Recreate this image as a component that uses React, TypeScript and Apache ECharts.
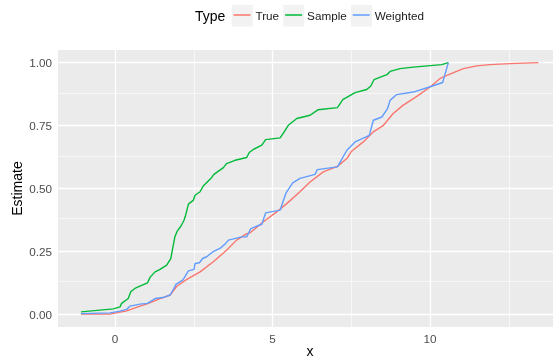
import React, { useEffect, useRef } from "react";
import * as echarts from "echarts";

const seriesNames = ["True", "Sample", "Weighted"];
const seriesColors = ["#F8766D", "#00BA38", "#619CFF"];

const trueX = [-1.08, -0.16, 0.37, 0.79, 1.0, 1.43, 1.75, 1.96, 2.28, 2.7, 3.12, 3.54, 3.86, 4.18, 4.29, 4.66, 5.13, 5.45, 5.87, 6.19, 6.61, 7.06, 7.36, 7.51, 7.88, 8.2, 8.52, 8.83, 9.15, 9.58, 10.0, 10.32, 10.63, 11.06, 11.48, 11.9, 12.54, 13.44];
const trueY = [0.001, 0.001, 0.014, 0.033, 0.041, 0.063, 0.077, 0.112, 0.139, 0.169, 0.209, 0.255, 0.295, 0.321, 0.324, 0.363, 0.407, 0.44, 0.487, 0.526, 0.566, 0.588, 0.619, 0.648, 0.685, 0.725, 0.751, 0.798, 0.831, 0.866, 0.903, 0.937, 0.954, 0.976, 0.987, 0.992, 0.996, 1.0];

const sampleX = [-1.08, -0.05, 0.16, 0.21, 0.42, 0.5, 0.63, 0.79, 1.03, 1.11, 1.27, 1.43, 1.64, 1.77, 1.85, 1.9, 1.98, 2.09, 2.19, 2.25, 2.33, 2.49, 2.54, 2.7, 2.8, 3.07, 3.14, 3.44, 3.54, 3.81, 4.18, 4.26, 4.39, 4.66, 4.78, 5.24, 5.37, 5.5, 5.77, 6.19, 6.38, 6.45, 7.06, 7.23, 7.62, 7.99, 8.12, 8.22, 8.63, 8.73, 9.05, 9.47, 10.37, 10.58];
const sampleY = [0.01, 0.022, 0.03, 0.044, 0.063, 0.09, 0.103, 0.112, 0.125, 0.147, 0.169, 0.179, 0.196, 0.222, 0.275, 0.308, 0.332, 0.35, 0.374, 0.398, 0.438, 0.454, 0.473, 0.487, 0.51, 0.544, 0.556, 0.583, 0.599, 0.612, 0.623, 0.643, 0.655, 0.672, 0.694, 0.701, 0.725, 0.751, 0.778, 0.791, 0.807, 0.813, 0.821, 0.853, 0.881, 0.893, 0.907, 0.932, 0.952, 0.965, 0.976, 0.982, 0.992, 1.0];

const weightedX = [-1.08, -0.16, 0.16, 0.37, 0.48, 0.79, 1.03, 1.27, 1.53, 1.75, 1.85, 1.94, 2.15, 2.33, 2.51, 2.54, 2.68, 2.78, 2.91, 3.1, 3.33, 3.49, 3.6, 4.02, 4.18, 4.31, 4.39, 4.66, 4.78, 5.24, 5.43, 5.64, 5.87, 6.35, 6.42, 7.06, 7.36, 7.62, 8.07, 8.2, 8.47, 8.65, 8.73, 8.94, 9.47, 10.05, 10.4, 10.58];
const weightedY = [0.003, 0.006, 0.013, 0.02, 0.033, 0.041, 0.044, 0.063, 0.067, 0.077, 0.099, 0.12, 0.136, 0.173, 0.179, 0.202, 0.205, 0.222, 0.229, 0.248, 0.262, 0.279, 0.295, 0.308, 0.308, 0.341, 0.345, 0.358, 0.403, 0.414, 0.483, 0.522, 0.54, 0.556, 0.575, 0.586, 0.652, 0.685, 0.711, 0.771, 0.784, 0.817, 0.85, 0.873, 0.883, 0.906, 0.921, 1.0];

const xTicks = [0, 5, 10];
const xMinor = [2.5, 7.5, 12.5];
const yTicks = [0, 0.25, 0.5, 0.75, 1];
const yMinor = [0.125, 0.375, 0.625, 0.875];

const FONT = "'Liberation Sans', Arial, Helvetica, sans-serif";

export default function App() {
  const ref = useRef<HTMLDivElement>(null);
  useEffect(() => {
    if (!ref.current) return;
    const chart = echarts.init(ref.current, null, { renderer: "svg" });
    const zip = (xs: number[], ys: number[]) => xs.map((x, i) => [x, ys[i]]);
    const gl = (axis: string, v: number, major: boolean) => ({
      [axis]: v,
      lineStyle: { color: "#FFFFFF", width: major ? 1.3 : 0.6, type: "solid" },
    });
    const gridMarks = [
      ...xMinor.map((v) => gl("xAxis", v, false)),
      ...yMinor.map((v) => gl("yAxis", v, false)),
      ...xTicks.map((v) => gl("xAxis", v, true)),
      ...yTicks.map((v) => gl("yAxis", v, true)),
    ];
    const datasets = [zip(trueX, trueY), zip(sampleX, sampleY), zip(weightedX, weightedY)];
    chart.setOption({
      animation: false,
      textStyle: { fontFamily: FONT },
      grid: {
        left: 58,
        right: -10,
        top: 50,
        bottom: 31,
        show: true,
        backgroundColor: "#EBEBEB",
        borderWidth: 0,
        containLabel: false,
        outerBoundsMode: "none",
      },
      legend: {
        data: seriesNames,
        left: 233.5,
        top: 9,
        padding: 0,
        itemWidth: 17,
        itemHeight: 1.5,
        itemGap: 6,
        icon: "rect",
        textStyle: { fontSize: 11.7, color: "#1A1A1A", fontFamily: FONT },
        selectedMode: false,
      },
      graphic: [
        { type: "rect", shape: { x: 231.7, y: 5, width: 21, height: 21.5 }, style: { fill: "#F2F2F2" }, z: 0 },
        { type: "rect", shape: { x: 283.3, y: 5, width: 21, height: 21.5 }, style: { fill: "#F2F2F2" }, z: 0 },
        { type: "rect", shape: { x: 351, y: 5, width: 21, height: 21.5 }, style: { fill: "#F2F2F2" }, z: 0 },
        {
          type: "text",
          x: 195,
          y: 16,
          style: { text: "Type", fontSize: 14, fill: "#000", fontFamily: FONT, verticalAlign: "middle", align: "left" },
        },
        {
          type: "text",
          x: 310,
          y: 350.5,
          style: { text: "x", fontSize: 14, lineHeight: 14, fill: "#000", fontFamily: FONT, verticalAlign: "middle", align: "center" },
        },
        {
          type: "text",
          x: 17,
          y: 188.5,
          rotation: Math.PI / 2,
          style: { text: "Estimate", fontSize: 14, fill: "#000", fontFamily: FONT, verticalAlign: "middle", align: "center" },
        },
      ],
      xAxis: {
        type: "value",
        min: -1.81,
        max: 14.22,
        axisLine: { show: false },
        axisTick: { show: true, customValues: xTicks, length: 3.7, lineStyle: { color: "#333333", width: 1 } },
        axisLabel: { customValues: xTicks, color: "#4D4D4D", fontSize: 11.7, margin: 5, fontFamily: FONT },
        splitLine: { show: false },
      },
      yAxis: {
        type: "value",
        min: -0.05,
        max: 1.05,
        axisLine: { show: false },
        axisTick: { show: true, customValues: yTicks, length: 3.7, lineStyle: { color: "#333333", width: 1 } },
        axisLabel: {
          customValues: yTicks,
          color: "#4D4D4D",
          fontSize: 11.7,
          margin: 6,
          fontFamily: FONT,
          formatter: (v: number) => v.toFixed(2),
        },
        splitLine: { show: false },
      },
      series: [
        {
          type: "line",
          name: "__grid",
          data: [],
          silent: true,
          markLine: {
            silent: true,
            symbol: "none",
            z: 1,
            label: { show: false },
            emphasis: { disabled: true },
            data: gridMarks,
          },
        },
        ...seriesNames.map((name, i) => ({
          type: "line",
          name,
          data: datasets[i],
          showSymbol: false,
          symbol: "none",
          color: seriesColors[i],
          lineStyle: { color: seriesColors[i], width: 1.4 },
          z: 2 + i,
        })),
      ],
    });
    return () => chart.dispose();
  }, []);
  return <div ref={ref} style={{ position: "fixed", left: 0, top: 0, width: 553, height: 358 }} />;
}
